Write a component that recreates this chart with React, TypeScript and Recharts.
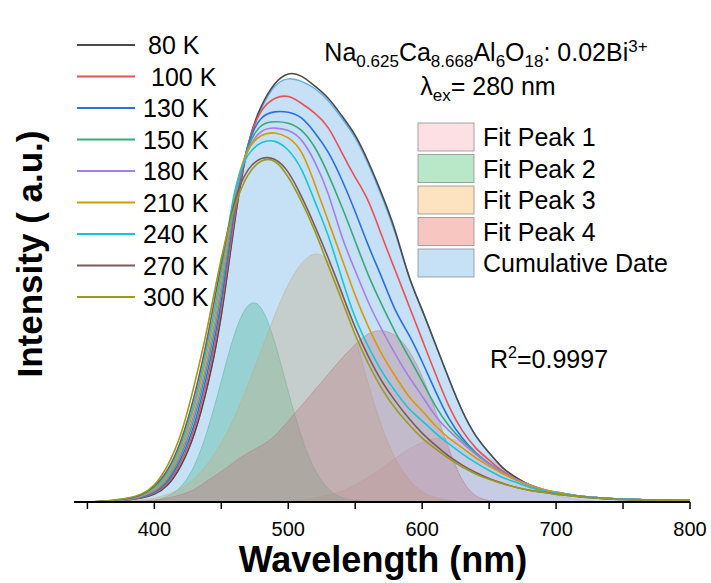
import React from "react";
import { Area, ComposedChart, Line, XAxis, YAxis } from "recharts";

const FONT = '"Liberation Sans", Arial, Helvetica, sans-serif';

// wavelength grid (nm)
const wavelengths = [
  350, 360, 370, 380, 390, 400, 410, 420, 430, 440, 450, 460, 470, 480, 490, 500, 510, 520, 530, 540, 550, 560, 570,
  580, 590, 600, 610, 620, 630, 640, 650, 660, 670, 680, 690, 700, 710, 720, 730, 740, 750, 760, 770, 780, 790, 800,
];

const xTicks = [350, 400, 450, 500, 550, 600, 650, 700, 750, 800];

// Gaussian fit components
const peak1 = [
  0, 0, 0, 0, 0, 0, 0, 0, 0, 0, 0, 0.05, 0.1, 0.1, 0.15, 0.2, 0.4, 0.8, 1.4, 2.2, 3.5, 5.1, 6.9, 8.9, 10.7, 12.1, 12.9,
  12.9, 12.1, 10.7, 8.9, 6.9, 5.1, 3.5, 2.2, 1.4, 0.8, 0.4, 0.2, 0.1, 0, 0, 0, 0, 0, 0,
];
const peak2 = [
  0, 0, 0, 0, 0.1, 0.35, 1.2, 3.2, 7.5, 14.9, 24.6, 34.2, 39.9, 39.3, 32.4, 22.5, 13.2, 6.5, 2.7, 0.9, 0.3, 0.1, 0, 0,
  0, 0, 0, 0, 0, 0, 0, 0, 0, 0, 0, 0, 0, 0, 0, 0, 0, 0, 0, 0, 0, 0,
];
const peak3 = [
  0, 0.05, 0.1, 0.2, 0.4, 0.8, 1.6, 2.8, 4.8, 7.9, 12, 17.4, 23.9, 31, 38, 44.2, 48.5, 50.4, 48.8, 42.7, 33.6, 23.8,
  15.2, 8.8, 4.6, 2.1, 0.9, 0.3, 0.1, 0, 0, 0, 0, 0, 0, 0, 0, 0, 0, 0, 0, 0, 0, 0, 0, 0,
];
const peak4 = [
  0, 0, 0.05, 0.1, 0.2, 0.4, 0.8, 1.5, 2.6, 4.4, 6.2, 8.2, 10, 11.5, 13.5, 16.5, 19.6, 22.8, 26, 29.2, 32, 34.2, 34.8,
  33.8, 30.8, 25.5, 18.5, 10.8, 4.5, 1.3, 0.3, 0, 0, 0, 0, 0, 0, 0, 0, 0, 0, 0, 0, 0, 0, 0,
];
const cumulative = [
  0, 0.1, 0.2, 0.4, 0.8, 1.6, 3.5, 7.5, 14, 24, 38, 57, 72, 80, 84.5, 86, 85.5, 84, 81.5, 78, 74, 68.5, 62, 54.5, 46,
  39, 32, 25, 18.5, 13.5, 10, 7, 5, 3.5, 2.5, 1.8, 1.3, 1, 0.8, 0.6, 0.5, 0.4, 0.3, 0.3, 0.2, 0.2,
];

// measured emission spectra
const k80 = [
  0, 0.1, 0.2, 0.4, 0.8, 1.6, 3.5, 7.5, 14, 24, 38, 57, 72.5, 80.5, 85, 87, 86.5, 84.5, 82, 78.5, 74.5, 69, 62.5, 55,
  46, 39, 32, 25, 18.5, 13.5, 10, 7, 5, 3.5, 2.5, 1.8, 1.4, 1.1, 0.9, 0.7, 0.6, 0.5, 0.4, 0.4, 0.3, 0.3,
];
const k100 = [
  0, 0.1, 0.2, 0.45, 0.9, 1.8, 3.9, 8.2, 15, 25.3, 39.5, 58, 72.5, 79.5, 82, 82.4, 81, 79, 76, 71, 66, 61, 54, 47, 40,
  33, 26, 19.5, 14.5, 11, 8.5, 6.3, 4.7, 3.4, 2.5, 1.9, 1.5, 1.1, 0.9, 0.7, 0.6, 0.5, 0.4, 0.4, 0.3, 0.3,
];
const k130 = [
  0, 0.1, 0.2, 0.5, 1, 2, 4.3, 8.9, 16, 26.8, 41, 59.5, 72.5, 78, 79.3, 79.2, 78, 75, 71, 65.5, 59, 52, 45.5, 39, 34,
  28.5, 22.5, 17, 13, 10, 7.8, 6, 4.5, 3.4, 2.5, 1.9, 1.5, 1.1, 0.9, 0.7, 0.6, 0.5, 0.4, 0.4, 0.3, 0.3,
];
const k150 = [
  0, 0.1, 0.25, 0.5, 1.1, 2.2, 4.7, 9.6, 17.2, 28.2, 42.5, 60.5, 72, 76.5, 77.3, 77, 75.5, 72, 66.5, 60, 53, 46, 40,
  34.5, 29.5, 24.5, 19.5, 15.5, 12.5, 10, 7.8, 6, 4.6, 3.5, 2.6, 2, 1.5, 1.1, 0.9, 0.7, 0.6, 0.5, 0.4, 0.4, 0.3, 0.3,
];
const k180 = [
  0, 0.1, 0.25, 0.55, 1.15, 2.4, 5.1, 10.3, 18.3, 29.5, 44, 61.5, 71.5, 75.3, 76, 75.5, 73.5, 69, 62.5, 54, 47, 40.5,
  35, 30, 25.5, 21.5, 17.5, 14.5, 12, 9.7, 7.7, 6, 4.6, 3.5, 2.6, 2, 1.5, 1.1, 0.9, 0.7, 0.6, 0.5, 0.4, 0.4, 0.3, 0.3,
];
const k210 = [
  0, 0.1, 0.3, 0.6, 1.25, 2.6, 5.5, 11, 19.5, 31, 45.5, 62.5, 71.5, 74.5, 75, 74, 71, 64.5, 57, 49.5, 42, 35.5, 30,
  25.5, 21.5, 18.5, 15.5, 13, 11, 9, 7.3, 5.8, 4.5, 3.4, 2.6, 2, 1.5, 1.1, 0.9, 0.7, 0.6, 0.5, 0.4, 0.4, 0.3, 0.3,
];
const k240 = [
  0, 0.1, 0.3, 0.65, 1.35, 2.9, 6, 11.8, 20.5, 32.5, 47, 63, 70.5, 73, 73.3, 71.5, 67.5, 61, 54, 45.5, 37.5, 31.5,
  26.5, 22.5, 19, 16.5, 14, 11.8, 9.8, 8, 6.4, 5, 4, 3, 2.3, 1.8, 1.4, 1.1, 0.9, 0.7, 0.6, 0.5, 0.4, 0.4, 0.3, 0.3,
];
const k270 = [
  0, 0.1, 0.35, 0.7, 1.45, 3.2, 6.6, 12.6, 21.8, 34, 48.5, 61, 67.5, 69.8, 69.6, 67, 62, 56, 49.5, 42.5, 35.5, 29.5,
  24.5, 20.5, 17, 14, 11.5, 9.3, 7.5, 6, 4.8, 3.8, 3, 2.4, 2, 1.6, 1.3, 1, 0.8, 0.6, 0.5, 0.4, 0.4, 0.3, 0.3, 0.3,
];
const k300 = [
  0, 0.15, 0.4, 0.8, 1.6, 3.5, 7.5, 14, 24, 36, 49.5, 60, 66.5, 69.3, 69.2, 66, 61, 55, 48, 41, 34, 28, 23, 19, 15.8,
  13, 10.8, 8.8, 7.1, 5.7, 4.6, 3.7, 3, 2.4, 2, 1.6, 1.3, 1, 0.8, 0.6, 0.5, 0.4, 0.4, 0.3, 0.3, 0.3,
];

const tempLabels = ["80 K", "100 K", "130 K", "150 K", "180 K", "210 K", "240 K", "270 K", "300 K"];
const tempSeries = [k80, k100, k130, k150, k180, k210, k240, k270, k300];
const tempColors = ["#4a4a4a", "#e8505a", "#2b6fdc", "#3aa87a", "#a57fe6", "#d59a0c", "#17c6d4", "#7d5a5a", "#9a9a1e"];
const labelNudge = [5, 8, 0, 0, 0, 0, 0, 0, 0];

const fitLabels = ["Fit Peak 1", "Fit Peak 2", "Fit Peak 3", "Fit Peak 4", "Cumulative Date"];
const fitSeries = [peak1, peak2, peak3, peak4, cumulative];
const fitColors = ["#f9a6af", "#34bd62", "#f9af4b", "#eb5c4b", "#5ca6e2"];
const FILL_OPACITY = 0.35;

const rows = wavelengths.map((x, i) => {
  const row: Record<string, number> = { x };
  fitSeries.forEach((s, j) => (row[`fit${j}`] = s[i]));
  tempSeries.forEach((s, j) => (row[`t${j}`] = s[i]));
  return row;
});

const W = 711;
const H = 583;

function WaveTick(props: any) {
  const { x, y, payload } = props;
  if (payload.value % 100 !== 0) return null;
  return (
    <text x={x} y={y + 25} textAnchor="middle" fontSize={20} fontFamily={FONT} fill="#000">
      {payload.value}
    </text>
  );
}

function Overlay() {
  return (
    <svg width={W} height={H} style={{ position: "absolute", left: 0, top: 0, pointerEvents: "none" }} fontFamily={FONT}>
      <text
        x={42}
        y={254}
        transform="rotate(-90 42 254)"
        textAnchor="middle"
        fontSize={35}
        fontWeight="bold"
        fill="#000"
      >
        Intensity ( a.u.)
      </text>
      <text x={383} y={572} textAnchor="middle" fontSize={36} fontWeight="bold" fill="#000">
        Wavelength (nm)
      </text>

      {tempLabels.map((lab, i) => {
        const y = 45 + i * 31.5;
        return (
          <g key={lab}>
            <line x1={77} x2={135} y1={y} y2={y} stroke={tempColors[i]} strokeWidth={2} />
            <text x={143 + labelNudge[i]} y={y + 9} fontSize={25} fill="#000">
              {lab}
            </text>
          </g>
        );
      })}

      <text x={486} y={61} textAnchor="middle" fontSize={25} fill="#000">
        Na
        <tspan fontSize={17} dy={6}>0.625</tspan>
        <tspan dy={-6}>Ca</tspan>
        <tspan fontSize={17} dy={6}>8.668</tspan>
        <tspan dy={-6}>Al</tspan>
        <tspan fontSize={17} dy={6}>6</tspan>
        <tspan dy={-6}>O</tspan>
        <tspan fontSize={17} dy={6}>18</tspan>
        <tspan dy={-6}>: 0.02Bi</tspan>
        <tspan fontSize={17} dy={-9}>3+</tspan>
      </text>
      <text x={488} y={95} textAnchor="middle" fontSize={25} fill="#000">
        λ<tspan fontSize={17} dy={6}>ex</tspan>
        <tspan dy={-6}>= 280 nm</tspan>
      </text>

      {fitLabels.map((lab, i) => {
        const y = 123 + i * 31.5;
        return (
          <g key={lab}>
            <rect x={418} y={y} width={56} height={28} fill="#fff" />
            <rect
              x={418}
              y={y}
              width={56}
              height={28}
              fill={fitColors[i]}
              fillOpacity={FILL_OPACITY}
              stroke="#8f8f8f"
              strokeOpacity={0.8}
              strokeWidth={1}
            />
            <text x={483} y={y + 23} fontSize={25} fill="#000">
              {lab}
            </text>
          </g>
        );
      })}

      <text x={490} y={368} fontSize={25} fill="#000">
        R<tspan fontSize={16} dy={-10}>2</tspan>
        <tspan dy={10}>=0.9997</tspan>
      </text>
    </svg>
  );
}

export default function App() {
  return (
    <div style={{ position: "absolute", left: 0, top: 0, width: W, height: H, background: "#fff" }}>
      <ComposedChart width={W} height={H} data={rows} margin={{ top: 10, right: 21, bottom: 0, left: 74 }}>
        <XAxis
          dataKey="x"
          type="number"
          domain={[340, 800]}
          ticks={xTicks}
          allowDataOverflow
          height={81}
          tickSize={7}
          tickMargin={2}
          tick={<WaveTick />}
          axisLine={{ stroke: "#000", strokeWidth: 2 }}
          tickLine={{ stroke: "#000", strokeWidth: 1.5 }}
        />
        <XAxis
          xAxisId="top"
          orientation="top"
          type="number"
          domain={[340, 800]}
          height={0}
          tick={false}
          tickLine={false}
          axisLine={{ stroke: "#000", strokeWidth: 1.5 }}
        />
        <YAxis domain={[0, 100]} width={0} tick={false} tickLine={false} axisLine={{ stroke: "#000", strokeWidth: 1.5 }} />
        <YAxis
          yAxisId="right"
          orientation="right"
          domain={[0, 100]}
          width={0}
          tick={false}
          tickLine={false}
          axisLine={{ stroke: "#000", strokeWidth: 1.5 }}
        />

        {fitSeries.map((_, j) => (
          <Area
            key={`fit${j}`}
            dataKey={`fit${j}`}
            type="natural"
            fill={fitColors[j]}
            fillOpacity={FILL_OPACITY}
            stroke={fitColors[j]}
            strokeOpacity={j === 4 ? 0.9 : 0.45}
            strokeWidth={j === 4 ? 1.4 : 1}
            dot={false}
            activeDot={false}
            isAnimationActive={false}
          />
        ))}

        {tempSeries.map((_, j) => (
          <Line
            key={`t${j}`}
            dataKey={`t${j}`}
            type="natural"
            stroke={tempColors[j]}
            strokeWidth={1.6}
            dot={false}
            activeDot={false}
            isAnimationActive={false}
          />
        ))}
      </ComposedChart>
      <Overlay />
    </div>
  );
}
